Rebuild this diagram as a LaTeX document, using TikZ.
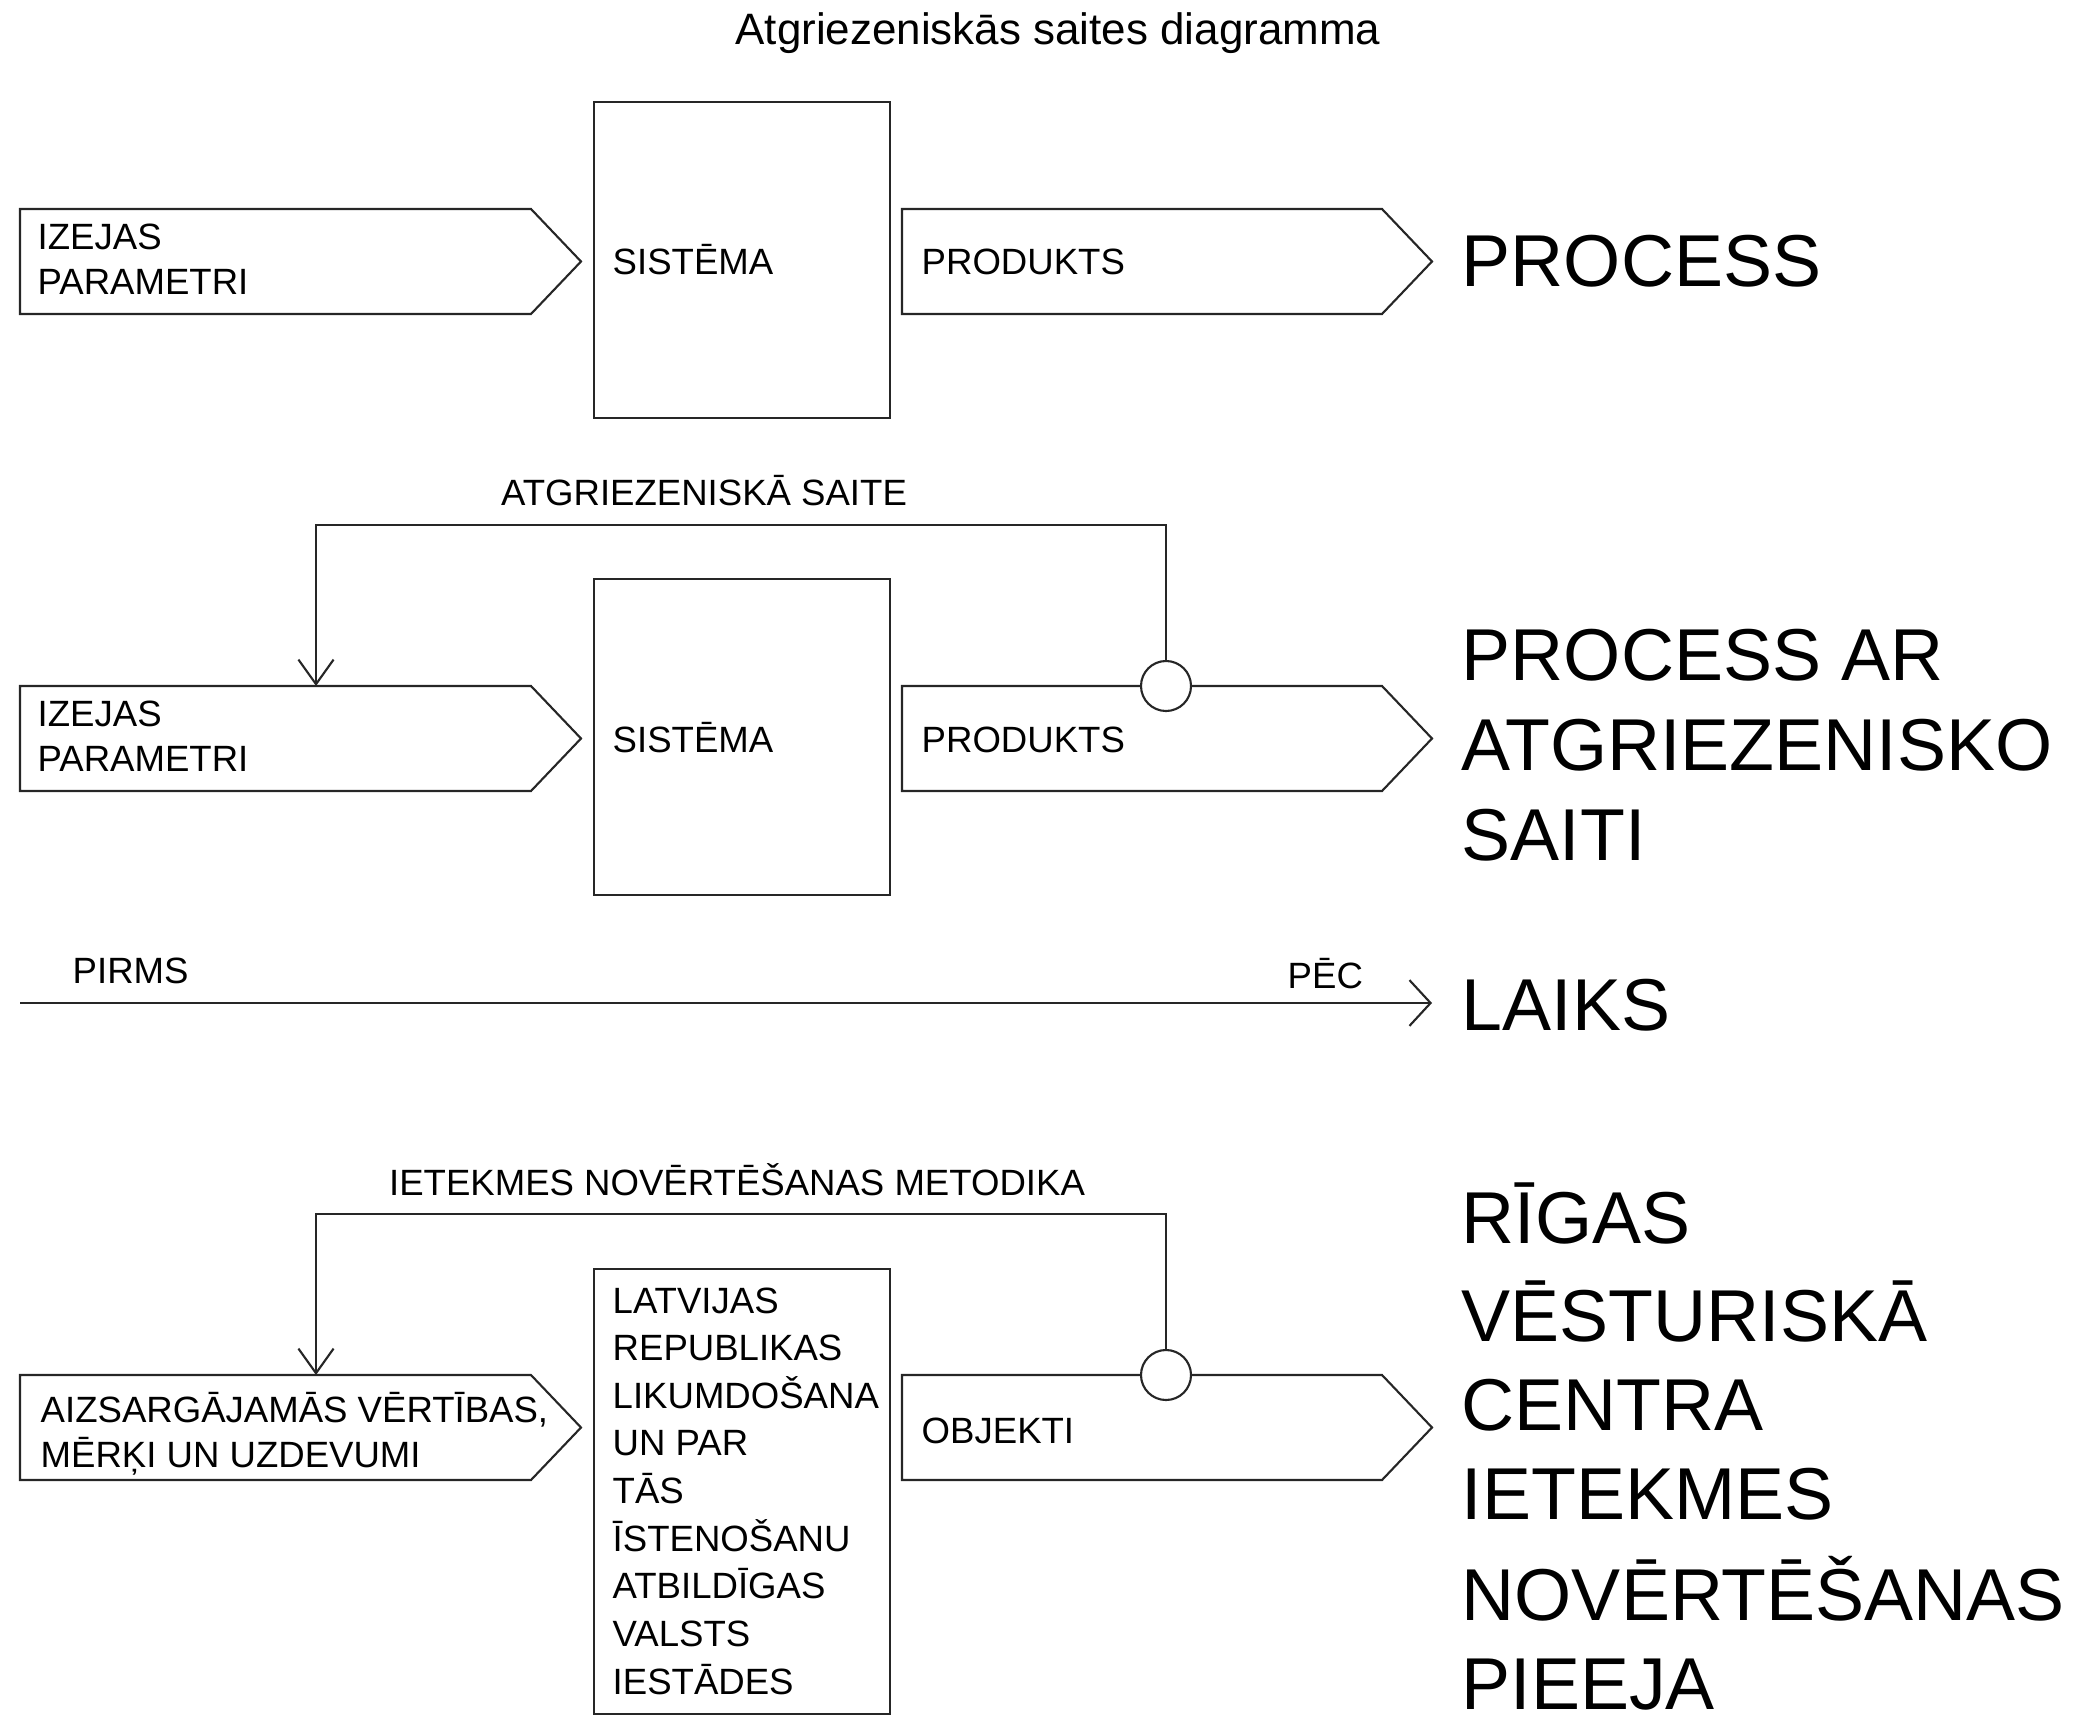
\documentclass[tikz,border=0pt]{standalone}
\usepackage{fontspec}
\setmainfont{Liberation Sans}
\usetikzlibrary{arrows.meta}

\begin{document}
\begin{tikzpicture}[x=0.01cm,y=-0.01cm,
    shp/.style={draw=black!85,line width=0.6pt},
    lbl/.style={font=\fontsize{10.4}{12.8}\selectfont,inner sep=0pt,align=left},
    bigtxt/.style={font=\fontsize{20.9}{25.6}\selectfont,inner sep=0pt,align=left},
    ttl/.style={font=\fontsize{12.5}{15}\selectfont,inner sep=0pt},
    knot/.style={circle,draw=black!85,line width=0.6pt,fill=white,minimum size=0.5cm,inner sep=0pt},
    fb/.style={shp,-{Straight Barb[length=7pt,width=10pt]}}]
  \useasboundingbox (0,0) rectangle (2083,1719);

  \node[ttl,anchor=base] (title) at (1058,45) {Atgriezeniskās saites diagramma};

  % process
  \draw[shp] (20,209) -- (531,209) -- (581,261.5) -- (531,314) -- (20,314) -- cycle;
  \draw[shp] (594,102) rectangle (890,418);
  \draw[shp] (902,209) -- (1382,209) -- (1432,261.5) -- (1382,314) -- (902,314) -- cycle;
  \node[lbl,anchor=west] (in1) at (37,259) {IZEJAS\\PARAMETRI};
  \node[lbl,anchor=base west] (sys1) at (612,275) {SISTĒMA};
  \node[lbl,anchor=base west] (out1) at (921,275) {PRODUKTS};
  \node[bigtxt,anchor=base west] (res1) at (1461,287) {PROCESS};

  % process with feedback
  \draw[shp] (20,686) -- (531,686) -- (581,738.5) -- (531,791) -- (20,791) -- cycle;
  \draw[shp] (594,579) rectangle (890,895);
  \draw[shp] (902,686) -- (1382,686) -- (1432,738.5) -- (1382,791) -- (902,791) -- cycle;
  \node[lbl,anchor=west] (in2) at (37,736) {IZEJAS\\PARAMETRI};
  \node[lbl,anchor=base west] (sys2) at (612,752) {SISTĒMA};
  \node[lbl,anchor=base west] (out2) at (921,752) {PRODUKTS};
  \node[bigtxt,anchor=west] (res2) at (1461,745) {PROCESS AR\\ATGRIEZENISKO\\SAITI};
  \node[lbl,anchor=base] (fbl2) at (704,505) {ATGRIEZENISKĀ SAITE};
  \node[knot] (k2) at (1166,686) {};
  \coordinate (in2top) at (316,686);
  \draw[fb] (k2.north) |- (316,525) -- (in2top);

  % time
  \coordinate (t0) at (20,1003);
  \coordinate (t1) at (1432,1003);
  \draw[shp,-{Straight Barb[length=6pt,width=13pt]}] (t0) -- (t1);
  \node[lbl,anchor=base west] (before) at (72,983) {PIRMS};
  \node[lbl,anchor=base west] (after) at (1287,988) {PĒC};
  \node[bigtxt,anchor=base west] (res3) at (1461,1030) {LAIKS};

  % impact assessment
  \draw[shp] (20,1375) -- (531,1375) -- (581,1427.5) -- (531,1480) -- (20,1480) -- cycle;
  \draw[shp] (594,1269) rectangle (890,1714);
  \draw[shp] (902,1375) -- (1382,1375) -- (1432,1427.5) -- (1382,1480) -- (902,1480) -- cycle;
  \node[lbl,anchor=west] (in4) at (40,1434) {AIZSARGĀJAMĀS VĒRTĪBAS,\\MĒRĶI UN UZDEVUMI};
  \node[lbl,anchor=west,font=\fontsize{10.4}{13.55}\selectfont] (sys4) at (612,1491)
    {LATVIJAS\\REPUBLIKAS\\LIKUMDOŠANA\\UN PAR\\TĀS\\ĪSTENOŠANU\\ATBILDĪGAS\\VALSTS\\IESTĀDES};
  \node[lbl,anchor=base west] (out4) at (921,1443) {OBJEKTI};
  \node[bigtxt,anchor=west,font=\fontsize{20.9}{25.3}\selectfont] (res4) at (1461,1446)
    {RĪGAS\\[2.6pt]VĒSTURISKĀ\\CENTRA\\IETEKMES\\[3.4pt]NOVĒRTĒŠANAS\\PIEEJA};
  \node[lbl,anchor=base] (fbl4) at (737,1195) {IETEKMES NOVĒRTĒŠANAS METODIKA};
  \node[knot] (k4) at (1166,1375) {};
  \coordinate (in4top) at (316,1375);
  \draw[fb] (k4.north) |- (316,1214) -- (in4top);
\end{tikzpicture}
\end{document}
